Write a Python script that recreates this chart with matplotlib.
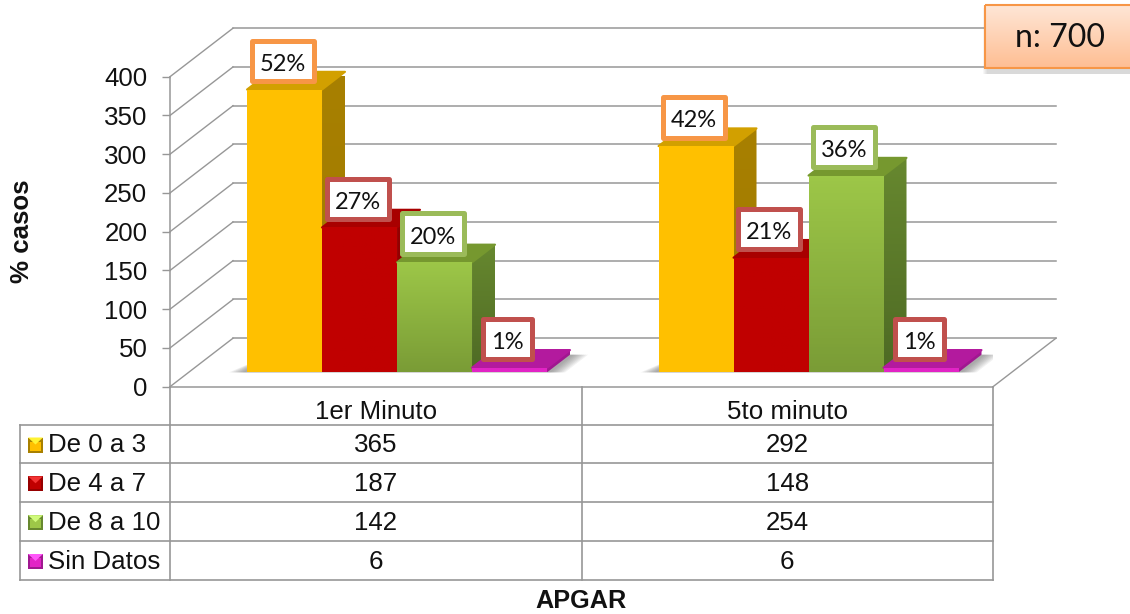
import numpy as np
import matplotlib
matplotlib.use("Agg")
import matplotlib.pyplot as plt
from matplotlib.colors import to_rgb
from matplotlib.patches import Polygon, Rectangle

# ── Data ──────────────────────────────────────────────────────────────────────
groups = ["1er Minuto", "5to minuto"]
series = ["De 0 a 3", "De 4 a 7", "De 8 a 10", "Sin Datos"]
de_0_a_3 = [365, 292]
de_4_a_7 = [187, 148]
de_8_a_10 = [142, 254]
sin_datos = [6, 6]
pct_0_a_3 = ["52%", "42%"]
pct_4_a_7 = ["27%", "21%"]
pct_8_a_10 = ["20%", "36%"]
pct_sin = ["1%", "1%"]
y_ticks = [0, 50, 100, 150, 200, 250, 300, 350, 400]

values = [de_0_a_3, de_4_a_7, de_8_a_10, sin_datos]
percents = [pct_0_a_3, pct_4_a_7, pct_8_a_10, pct_sin]

# ── Styles ────────────────────────────────────────────────────────────────────
# front top, front bottom, top face, side top, side bottom, label border
styles = [
    ("#FFC000", "#FFC000", "#D2A000", "#A88000", "#A07A00", "#F79646"),
    ("#C00000", "#C00000", "#A80000", "#960000", "#8C0000", "#C0504D"),
    ("#9DC748", "#7A9C36", "#76982F", "#67882F", "#4E6A24", "#9BBB59"),
    ("#E224C6", "#E224C6", "#B31A9E", "#A01890", "#A01890", "#C0504D"),
]
GRID = "#979797"
PX_X = 2 / 823    # category units per pixel
PX_Y = 400 / 310  # value units per pixel
DX = 63 * PX_X    # full floor depth
DY = 48.5 * PX_Y
BAR_W = 75 * PX_X
BAR_START = 0.142
D0, D1 = 0.295, 0.66   # bar depth range on the floor

plt.rcParams["font.family"] = ["Liberation Sans", "DejaVu Sans"]
fig = plt.figure(figsize=(11.3, 6.14), dpi=100)
ax = fig.add_axes([170 / 1130, (614 - 386.7) / 614, 823 / 1130, 310 / 614])
ax.set_xlim(0, 2)
ax.set_ylim(0, 400)
ax.patch.set_visible(False)


def fade_poly(verts, c_top, c_bot, z):
    """Polygon filled with a vertical gradient"""
    verts = np.array(verts)
    ramp = np.linspace(to_rgb(c_top), to_rgb(c_bot), 64)[:, None, :]
    im = ax.imshow(ramp, origin="upper", aspect="auto", zorder=z,
                   extent=(verts[:, 0].min(), verts[:, 0].max(),
                           verts[:, 1].min(), verts[:, 1].max()))
    patch = Polygon(verts, transform=ax.transData)
    im.set_clip_path(patch)
    im.set_clip_box(None)


def draw_bar(x, v, st, z):
    c_top, c_bot, c_cap, c_s_top, c_s_bot = st[:5]
    x0 = x + D0 * DX
    x1 = x0 + BAR_W
    b = D0 * DY
    t = b + v
    ox, oy = (D1 - D0) * DX, (D1 - D0) * DY
    # side face, then top, then front
    fade_poly([(x1, b), (x1 + ox, b + oy), (x1 + ox, t + oy), (x1, t)],
              c_s_top, c_s_bot, z)
    ax.add_patch(Polygon([(x0, t), (x0 + ox, t + oy), (x1 + ox, t + oy), (x1, t)],
                         fc=c_cap, ec=c_cap, lw=1.5, joinstyle="round",
                         clip_on=False, zorder=z + 0.01))
    fade_poly([(x0, b), (x1, b), (x1, t), (x0, t)], c_top, c_bot, z + 0.02)
    return (x0 + x1) / 2, t


def draw_label(cx, top, text, color):
    w = (54 if len(text) == 2 else 66.7) - 5
    h = 45.5 - 5
    cx = cx - 1.8 * PX_X
    cy = top + 28.6 * PX_Y
    ax.add_patch(Rectangle((cx - w * PX_X / 2, cy - h * PX_Y / 2), w * PX_X, h * PX_Y,
                           fc="white", ec=color, lw=3.6, joinstyle="round",
                           clip_on=False, zorder=8))
    ax.text(cx, cy - 1.5 * PX_Y, text, ha="center", va="center_baseline", fontsize=17,
            family=["Lato", "DejaVu Sans"], color="#111111", zorder=9)


# ── Walls and grid ────────────────────────────────────────────────────────────
for v in y_ticks:
    ax.plot([0, DX], [v, v + DY], color=GRID, lw=1, clip_on=False, zorder=1)
    ax.plot([DX, 2 + DX], [v + DY, v + DY], color=GRID, lw=1.1, clip_on=False, zorder=1)
ax.plot([2, 2 + DX], [0, DY], color=GRID, lw=1, clip_on=False, zorder=1)

# ── Bars ──────────────────────────────────────────────────────────────────────
for g in range(len(groups)):
    # soft floor shadow round the group
    x_l = g + BAR_START + D0 * DX
    x_r = x_l + 4 * BAR_W
    for k in range(8):
        pad = (18 - 2 * k) * PX_X
        ax.add_patch(Polygon([(x_l - pad, D0 * DY), (x_r + pad, D0 * DY),
                              (x_r + (D1 - D0) * DX + pad, D1 * DY),
                              (x_l + (D1 - D0) * DX, D1 * DY)],
                             fc="#555555", ec="none", alpha=0.08, zorder=2))
    for s in range(len(series)):
        z = 3 + s * 0.1
        cx, top = draw_bar(g + BAR_START + s * BAR_W, values[s][g], styles[s], z)
        draw_label(cx, top, percents[s][g], styles[s][5])

# ── Axis ──────────────────────────────────────────────────────────────────────
for side in ("top", "right"):
    ax.spines[side].set_visible(False)
for side in ("left", "bottom"):
    ax.spines[side].set_color(GRID)
    ax.spines[side].set_linewidth(1.1)
ax.set_xticks([])
ax.set_yticks(y_ticks)
ax.tick_params(axis="y", length=5.8, width=1, color=GRID, pad=10.5, labelsize=18.6,
               labelcolor="#111111")
ax.set_ylabel("% casos", fontsize=18.6, fontweight="bold", color="#111111")
ax.yaxis.set_label_coords(-136 / 823, 0.5)

# ── Table, legend keys, note (overlay in pixels) ──────────────────────────────
ov = fig.add_axes([0, 0, 1, 1])
ov.patch.set_visible(False)
ov.axis("off")

row_edges = [424.7, 463.3, 502.3, 541, 580]
col_edges = [170, 581.5, 993]
tbl_left = 19.5
for x in col_edges:
    ov.plot([x, x], [386.7, row_edges[-1]], color=GRID, lw=1.2)
ov.plot([tbl_left, tbl_left], [row_edges[0], row_edges[-1]], color=GRID, lw=1.2)
for y in row_edges:
    ov.plot([tbl_left, col_edges[-1]], [y, y], color=GRID, lw=1.2)

col_mid = [(col_edges[i] + col_edges[i + 1]) / 2 for i in range(2)]
for j, name in enumerate(groups):
    ov.text(col_mid[j], 412, name, ha="center", va="center", fontsize=18.6, color="#111111")
for s, name in enumerate(series):
    y = (row_edges[s] + row_edges[s + 1]) / 2 + 1.5
    ov.text(48, y, name, ha="left", va="center", fontsize=18.6, color="#111111")
    for j in range(len(groups)):
        ov.text(col_mid[j], y, str(values[s][j]), ha="center", va="center",
                fontsize=18.6, color="#111111")
    # bevelled legend key
    kx, ky, kw = 28, y - 8, 15
    st = styles[s]
    ov.add_patch(Rectangle((kx, ky), kw, kw, fc=st[3], ec="none"))
    ov.add_patch(Rectangle((kx + 2, ky + 4), kw - 4, kw - 6, fc=st[0], ec="none"))
    ov.add_patch(Polygon([(kx, ky), (kx + kw, ky), (kx + kw / 2, ky + 7)],
                         fc=tuple(np.minimum(np.array(to_rgb(st[0])) + 0.2, 1)), ec="none"))

# n: 700 note
for k in range(5):
    ov.add_patch(Rectangle((985 - 2 + k, 8 + k), 150, 66 - k, fc="#777777", ec="none",
                           alpha=0.06, zorder=4))
ramp = np.linspace(to_rgb("#FEE6D6"), to_rgb("#FFBE93"), 64)[:, None, :]
ov.imshow(ramp, origin="upper", aspect="auto", extent=(985, 1135, 68, 5), zorder=5)
ov.add_patch(Rectangle((985, 5), 150, 63, fc="none", ec="#F79646", lw=1.5, zorder=6))
ov.text(1060, 38, "n: 700", ha="center", va="center", fontsize=23,
        family=["Lato", "DejaVu Sans"], color="#111111", zorder=7)

ov.text(581.5, 601, "APGAR", ha="center", va="center", fontsize=18.2, fontweight="bold",
        color="#111111")
ov.set_xlim(0, 1130)
ov.set_ylim(614, 0)

fig.savefig("out.png", dpi=100)
